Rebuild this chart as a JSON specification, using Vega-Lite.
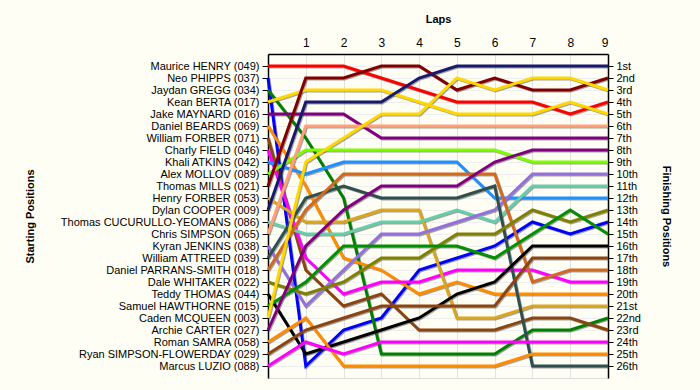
{
 "$schema": "https://vega.github.io/schema/vega-lite/v6.json",
 "width": 340, "height": 324,
 "autosize": {"type": "none"},
 "padding": {"left": 268, "top": 54, "right": 92, "bottom": 12},
 "background": "#FFFEF4",
 "config": {"font": "Liberation Sans", "view": {"stroke": "#dddddd", "fill": "#FFFEF4"}},
 "datasets": {"laps": [
  {"driver":"Maurice HENRY (049)","lap":0,"pos":1},{"driver":"Maurice HENRY (049)","lap":1,"pos":1},{"driver":"Maurice HENRY (049)","lap":2,"pos":1},{"driver":"Maurice HENRY (049)","lap":3,"pos":2},{"driver":"Maurice HENRY (049)","lap":4,"pos":3},{"driver":"Maurice HENRY (049)","lap":5,"pos":4},{"driver":"Maurice HENRY (049)","lap":6,"pos":4},{"driver":"Maurice HENRY (049)","lap":7,"pos":4},{"driver":"Maurice HENRY (049)","lap":8,"pos":5},{"driver":"Maurice HENRY (049)","lap":9,"pos":4},
  {"driver":"Neo PHIPPS (037)","lap":0,"pos":2},{"driver":"Neo PHIPPS (037)","lap":1,"pos":26},{"driver":"Neo PHIPPS (037)","lap":2,"pos":23},{"driver":"Neo PHIPPS (037)","lap":3,"pos":22},{"driver":"Neo PHIPPS (037)","lap":4,"pos":18},{"driver":"Neo PHIPPS (037)","lap":5,"pos":17},{"driver":"Neo PHIPPS (037)","lap":6,"pos":16},{"driver":"Neo PHIPPS (037)","lap":7,"pos":14},{"driver":"Neo PHIPPS (037)","lap":8,"pos":15},{"driver":"Neo PHIPPS (037)","lap":9,"pos":14},
  {"driver":"Jaydan GREGG (034)","lap":0,"pos":3},{"driver":"Jaydan GREGG (034)","lap":1,"pos":7},{"driver":"Jaydan GREGG (034)","lap":2,"pos":12},{"driver":"Jaydan GREGG (034)","lap":3,"pos":25},{"driver":"Jaydan GREGG (034)","lap":4,"pos":25},{"driver":"Jaydan GREGG (034)","lap":5,"pos":25},{"driver":"Jaydan GREGG (034)","lap":6,"pos":25},{"driver":"Jaydan GREGG (034)","lap":7,"pos":23},{"driver":"Jaydan GREGG (034)","lap":8,"pos":23},{"driver":"Jaydan GREGG (034)","lap":9,"pos":22},
  {"driver":"Kean BERTA (017)","lap":0,"pos":4},{"driver":"Kean BERTA (017)","lap":1,"pos":3},{"driver":"Kean BERTA (017)","lap":2,"pos":3},{"driver":"Kean BERTA (017)","lap":3,"pos":3},{"driver":"Kean BERTA (017)","lap":4,"pos":4},{"driver":"Kean BERTA (017)","lap":5,"pos":5},{"driver":"Kean BERTA (017)","lap":6,"pos":5},{"driver":"Kean BERTA (017)","lap":7,"pos":5},{"driver":"Kean BERTA (017)","lap":8,"pos":4},{"driver":"Kean BERTA (017)","lap":9,"pos":5},
  {"driver":"Jake MAYNARD (016)","lap":0,"pos":5},{"driver":"Jake MAYNARD (016)","lap":1,"pos":5},{"driver":"Jake MAYNARD (016)","lap":2,"pos":5},{"driver":"Jake MAYNARD (016)","lap":3,"pos":7},{"driver":"Jake MAYNARD (016)","lap":4,"pos":7},{"driver":"Jake MAYNARD (016)","lap":5,"pos":7},{"driver":"Jake MAYNARD (016)","lap":6,"pos":7},{"driver":"Jake MAYNARD (016)","lap":7,"pos":7},{"driver":"Jake MAYNARD (016)","lap":8,"pos":7},{"driver":"Jake MAYNARD (016)","lap":9,"pos":7},
  {"driver":"Daniel BEARDS (069)","lap":0,"pos":6},{"driver":"Daniel BEARDS (069)","lap":1,"pos":11},{"driver":"Daniel BEARDS (069)","lap":2,"pos":17},{"driver":"Daniel BEARDS (069)","lap":3,"pos":18},{"driver":"Daniel BEARDS (069)","lap":4,"pos":20},{"driver":"Daniel BEARDS (069)","lap":5,"pos":19},{"driver":"Daniel BEARDS (069)","lap":6,"pos":20},{"driver":"Daniel BEARDS (069)","lap":7,"pos":20},{"driver":"Daniel BEARDS (069)","lap":8,"pos":20},{"driver":"Daniel BEARDS (069)","lap":9,"pos":20},
  {"driver":"William FORBER (071)","lap":0,"pos":7},{"driver":"William FORBER (071)","lap":1,"pos":18},{"driver":"William FORBER (071)","lap":2,"pos":21},{"driver":"William FORBER (071)","lap":3,"pos":20},{"driver":"William FORBER (071)","lap":4,"pos":23},{"driver":"William FORBER (071)","lap":5,"pos":23},{"driver":"William FORBER (071)","lap":6,"pos":23},{"driver":"William FORBER (071)","lap":7,"pos":22},{"driver":"William FORBER (071)","lap":8,"pos":22},{"driver":"William FORBER (071)","lap":9,"pos":23},
  {"driver":"Charly FIELD (046)","lap":0,"pos":8},{"driver":"Charly FIELD (046)","lap":1,"pos":17},{"driver":"Charly FIELD (046)","lap":2,"pos":20},{"driver":"Charly FIELD (046)","lap":3,"pos":19},{"driver":"Charly FIELD (046)","lap":4,"pos":19},{"driver":"Charly FIELD (046)","lap":5,"pos":18},{"driver":"Charly FIELD (046)","lap":6,"pos":18},{"driver":"Charly FIELD (046)","lap":7,"pos":18},{"driver":"Charly FIELD (046)","lap":8,"pos":19},{"driver":"Charly FIELD (046)","lap":9,"pos":19},
  {"driver":"Khali ATKINS (042)","lap":0,"pos":9},{"driver":"Khali ATKINS (042)","lap":1,"pos":10},{"driver":"Khali ATKINS (042)","lap":2,"pos":9},{"driver":"Khali ATKINS (042)","lap":3,"pos":9},{"driver":"Khali ATKINS (042)","lap":4,"pos":9},{"driver":"Khali ATKINS (042)","lap":5,"pos":9},{"driver":"Khali ATKINS (042)","lap":6,"pos":12},{"driver":"Khali ATKINS (042)","lap":7,"pos":12},{"driver":"Khali ATKINS (042)","lap":8,"pos":12},{"driver":"Khali ATKINS (042)","lap":9,"pos":12},
  {"driver":"Alex MOLLOV (089)","lap":0,"pos":10},{"driver":"Alex MOLLOV (089)","lap":1,"pos":8},{"driver":"Alex MOLLOV (089)","lap":2,"pos":8},{"driver":"Alex MOLLOV (089)","lap":3,"pos":8},{"driver":"Alex MOLLOV (089)","lap":4,"pos":8},{"driver":"Alex MOLLOV (089)","lap":5,"pos":8},{"driver":"Alex MOLLOV (089)","lap":6,"pos":8},{"driver":"Alex MOLLOV (089)","lap":7,"pos":9},{"driver":"Alex MOLLOV (089)","lap":8,"pos":9},{"driver":"Alex MOLLOV (089)","lap":9,"pos":9},
  {"driver":"Thomas MILLS (021)","lap":0,"pos":11},{"driver":"Thomas MILLS (021)","lap":1,"pos":2},{"driver":"Thomas MILLS (021)","lap":2,"pos":2},{"driver":"Thomas MILLS (021)","lap":3,"pos":1},{"driver":"Thomas MILLS (021)","lap":4,"pos":1},{"driver":"Thomas MILLS (021)","lap":5,"pos":3},{"driver":"Thomas MILLS (021)","lap":6,"pos":2},{"driver":"Thomas MILLS (021)","lap":7,"pos":3},{"driver":"Thomas MILLS (021)","lap":8,"pos":3},{"driver":"Thomas MILLS (021)","lap":9,"pos":2},
  {"driver":"Henry FORBER (053)","lap":0,"pos":12},{"driver":"Henry FORBER (053)","lap":1,"pos":14},{"driver":"Henry FORBER (053)","lap":2,"pos":14},{"driver":"Henry FORBER (053)","lap":3,"pos":13},{"driver":"Henry FORBER (053)","lap":4,"pos":13},{"driver":"Henry FORBER (053)","lap":5,"pos":22},{"driver":"Henry FORBER (053)","lap":6,"pos":22},{"driver":"Henry FORBER (053)","lap":7,"pos":21},{"driver":"Henry FORBER (053)","lap":8,"pos":21},{"driver":"Henry FORBER (053)","lap":9,"pos":21},
  {"driver":"Dylan COOPER (009)","lap":0,"pos":13},{"driver":"Dylan COOPER (009)","lap":1,"pos":4},{"driver":"Dylan COOPER (009)","lap":2,"pos":4},{"driver":"Dylan COOPER (009)","lap":3,"pos":4},{"driver":"Dylan COOPER (009)","lap":4,"pos":2},{"driver":"Dylan COOPER (009)","lap":5,"pos":1},{"driver":"Dylan COOPER (009)","lap":6,"pos":1},{"driver":"Dylan COOPER (009)","lap":7,"pos":1},{"driver":"Dylan COOPER (009)","lap":8,"pos":1},{"driver":"Dylan COOPER (009)","lap":9,"pos":1},
  {"driver":"Thomas CUCURULLO-YEOMANS (086)","lap":0,"pos":14},{"driver":"Thomas CUCURULLO-YEOMANS (086)","lap":1,"pos":15},{"driver":"Thomas CUCURULLO-YEOMANS (086)","lap":2,"pos":15},{"driver":"Thomas CUCURULLO-YEOMANS (086)","lap":3,"pos":14},{"driver":"Thomas CUCURULLO-YEOMANS (086)","lap":4,"pos":14},{"driver":"Thomas CUCURULLO-YEOMANS (086)","lap":5,"pos":13},{"driver":"Thomas CUCURULLO-YEOMANS (086)","lap":6,"pos":14},{"driver":"Thomas CUCURULLO-YEOMANS (086)","lap":7,"pos":11},{"driver":"Thomas CUCURULLO-YEOMANS (086)","lap":8,"pos":11},{"driver":"Thomas CUCURULLO-YEOMANS (086)","lap":9,"pos":11},
  {"driver":"Chris SIMPSON (065)","lap":0,"pos":15},{"driver":"Chris SIMPSON (065)","lap":1,"pos":6},{"driver":"Chris SIMPSON (065)","lap":2,"pos":6},{"driver":"Chris SIMPSON (065)","lap":3,"pos":6},{"driver":"Chris SIMPSON (065)","lap":4,"pos":6},{"driver":"Chris SIMPSON (065)","lap":5,"pos":6},{"driver":"Chris SIMPSON (065)","lap":6,"pos":6},{"driver":"Chris SIMPSON (065)","lap":7,"pos":6},{"driver":"Chris SIMPSON (065)","lap":8,"pos":6},{"driver":"Chris SIMPSON (065)","lap":9,"pos":6},
  {"driver":"Kyran JENKINS (038)","lap":0,"pos":16},{"driver":"Kyran JENKINS (038)","lap":1,"pos":21},{"driver":"Kyran JENKINS (038)","lap":2,"pos":18},{"driver":"Kyran JENKINS (038)","lap":3,"pos":15},{"driver":"Kyran JENKINS (038)","lap":4,"pos":15},{"driver":"Kyran JENKINS (038)","lap":5,"pos":14},{"driver":"Kyran JENKINS (038)","lap":6,"pos":13},{"driver":"Kyran JENKINS (038)","lap":7,"pos":10},{"driver":"Kyran JENKINS (038)","lap":8,"pos":10},{"driver":"Kyran JENKINS (038)","lap":9,"pos":10},
  {"driver":"William ATTREED (039)","lap":0,"pos":17},{"driver":"William ATTREED (039)","lap":1,"pos":12},{"driver":"William ATTREED (039)","lap":2,"pos":11},{"driver":"William ATTREED (039)","lap":3,"pos":12},{"driver":"William ATTREED (039)","lap":4,"pos":12},{"driver":"William ATTREED (039)","lap":5,"pos":12},{"driver":"William ATTREED (039)","lap":6,"pos":11},{"driver":"William ATTREED (039)","lap":7,"pos":26},{"driver":"William ATTREED (039)","lap":8,"pos":26},{"driver":"William ATTREED (039)","lap":9,"pos":26},
  {"driver":"Daniel PARRANS-SMITH (018)","lap":0,"pos":18},{"driver":"Daniel PARRANS-SMITH (018)","lap":1,"pos":13},{"driver":"Daniel PARRANS-SMITH (018)","lap":2,"pos":10},{"driver":"Daniel PARRANS-SMITH (018)","lap":3,"pos":10},{"driver":"Daniel PARRANS-SMITH (018)","lap":4,"pos":10},{"driver":"Daniel PARRANS-SMITH (018)","lap":5,"pos":10},{"driver":"Daniel PARRANS-SMITH (018)","lap":6,"pos":10},{"driver":"Daniel PARRANS-SMITH (018)","lap":7,"pos":19},{"driver":"Daniel PARRANS-SMITH (018)","lap":8,"pos":18},{"driver":"Daniel PARRANS-SMITH (018)","lap":9,"pos":18},
  {"driver":"Dale WHITAKER (022)","lap":0,"pos":19},{"driver":"Dale WHITAKER (022)","lap":1,"pos":20},{"driver":"Dale WHITAKER (022)","lap":2,"pos":19},{"driver":"Dale WHITAKER (022)","lap":3,"pos":17},{"driver":"Dale WHITAKER (022)","lap":4,"pos":17},{"driver":"Dale WHITAKER (022)","lap":5,"pos":15},{"driver":"Dale WHITAKER (022)","lap":6,"pos":15},{"driver":"Dale WHITAKER (022)","lap":7,"pos":13},{"driver":"Dale WHITAKER (022)","lap":8,"pos":14},{"driver":"Dale WHITAKER (022)","lap":9,"pos":13},
  {"driver":"Teddy THOMAS (044)","lap":0,"pos":20},{"driver":"Teddy THOMAS (044)","lap":1,"pos":25},{"driver":"Teddy THOMAS (044)","lap":2,"pos":24},{"driver":"Teddy THOMAS (044)","lap":3,"pos":23},{"driver":"Teddy THOMAS (044)","lap":4,"pos":22},{"driver":"Teddy THOMAS (044)","lap":5,"pos":20},{"driver":"Teddy THOMAS (044)","lap":6,"pos":19},{"driver":"Teddy THOMAS (044)","lap":7,"pos":16},{"driver":"Teddy THOMAS (044)","lap":8,"pos":16},{"driver":"Teddy THOMAS (044)","lap":9,"pos":16},
  {"driver":"Samuel HAWTHORNE (015)","lap":0,"pos":21},{"driver":"Samuel HAWTHORNE (015)","lap":1,"pos":19},{"driver":"Samuel HAWTHORNE (015)","lap":2,"pos":16},{"driver":"Samuel HAWTHORNE (015)","lap":3,"pos":16},{"driver":"Samuel HAWTHORNE (015)","lap":4,"pos":16},{"driver":"Samuel HAWTHORNE (015)","lap":5,"pos":16},{"driver":"Samuel HAWTHORNE (015)","lap":6,"pos":17},{"driver":"Samuel HAWTHORNE (015)","lap":7,"pos":15},{"driver":"Samuel HAWTHORNE (015)","lap":8,"pos":13},{"driver":"Samuel HAWTHORNE (015)","lap":9,"pos":15},
  {"driver":"Caden MCQUEEN (003)","lap":0,"pos":22},{"driver":"Caden MCQUEEN (003)","lap":1,"pos":9},{"driver":"Caden MCQUEEN (003)","lap":2,"pos":7},{"driver":"Caden MCQUEEN (003)","lap":3,"pos":5},{"driver":"Caden MCQUEEN (003)","lap":4,"pos":5},{"driver":"Caden MCQUEEN (003)","lap":5,"pos":2},{"driver":"Caden MCQUEEN (003)","lap":6,"pos":3},{"driver":"Caden MCQUEEN (003)","lap":7,"pos":2},{"driver":"Caden MCQUEEN (003)","lap":8,"pos":2},{"driver":"Caden MCQUEEN (003)","lap":9,"pos":3},
  {"driver":"Archie CARTER (027)","lap":0,"pos":23},{"driver":"Archie CARTER (027)","lap":1,"pos":16},{"driver":"Archie CARTER (027)","lap":2,"pos":13},{"driver":"Archie CARTER (027)","lap":3,"pos":11},{"driver":"Archie CARTER (027)","lap":4,"pos":11},{"driver":"Archie CARTER (027)","lap":5,"pos":11},{"driver":"Archie CARTER (027)","lap":6,"pos":9},{"driver":"Archie CARTER (027)","lap":7,"pos":8},{"driver":"Archie CARTER (027)","lap":8,"pos":8},{"driver":"Archie CARTER (027)","lap":9,"pos":8},
  {"driver":"Roman SAMRA (058)","lap":0,"pos":24},{"driver":"Roman SAMRA (058)","lap":1,"pos":22},{"driver":"Roman SAMRA (058)","lap":2,"pos":26},{"driver":"Roman SAMRA (058)","lap":3,"pos":26},{"driver":"Roman SAMRA (058)","lap":4,"pos":26},{"driver":"Roman SAMRA (058)","lap":5,"pos":26},{"driver":"Roman SAMRA (058)","lap":6,"pos":26},{"driver":"Roman SAMRA (058)","lap":7,"pos":25},{"driver":"Roman SAMRA (058)","lap":8,"pos":25},{"driver":"Roman SAMRA (058)","lap":9,"pos":25},
  {"driver":"Ryan SIMPSON-FLOWERDAY (029)","lap":0,"pos":25},{"driver":"Ryan SIMPSON-FLOWERDAY (029)","lap":1,"pos":23},{"driver":"Ryan SIMPSON-FLOWERDAY (029)","lap":2,"pos":22},{"driver":"Ryan SIMPSON-FLOWERDAY (029)","lap":3,"pos":21},{"driver":"Ryan SIMPSON-FLOWERDAY (029)","lap":4,"pos":21},{"driver":"Ryan SIMPSON-FLOWERDAY (029)","lap":5,"pos":21},{"driver":"Ryan SIMPSON-FLOWERDAY (029)","lap":6,"pos":21},{"driver":"Ryan SIMPSON-FLOWERDAY (029)","lap":7,"pos":17},{"driver":"Ryan SIMPSON-FLOWERDAY (029)","lap":8,"pos":17},{"driver":"Ryan SIMPSON-FLOWERDAY (029)","lap":9,"pos":17},
  {"driver":"Marcus LUZIO (088)","lap":0,"pos":26},{"driver":"Marcus LUZIO (088)","lap":1,"pos":24},{"driver":"Marcus LUZIO (088)","lap":2,"pos":25},{"driver":"Marcus LUZIO (088)","lap":3,"pos":24},{"driver":"Marcus LUZIO (088)","lap":4,"pos":24},{"driver":"Marcus LUZIO (088)","lap":5,"pos":24},{"driver":"Marcus LUZIO (088)","lap":6,"pos":24},{"driver":"Marcus LUZIO (088)","lap":7,"pos":24},{"driver":"Marcus LUZIO (088)","lap":8,"pos":24},{"driver":"Marcus LUZIO (088)","lap":9,"pos":24}
 ]},
 "data": {"name": "laps"},
 "encoding": {
  "x": {"field": "lap", "type": "quantitative", "scale": {"domain": [0, 9], "nice": false, "zero": false},
        "axis": {"orient": "top", "title": "Laps", "values": [1,2,3,4,5,6,7,8,9], "format": "d", "ticks": false, "labelPadding": 5, "labelFontSize": 12, "labelColor": "#000000", "domainColor": "#000000", "domainWidth": 1.5, "grid": true, "gridColor": "#e2e2e2", "titleFontSize": 11, "titleFontWeight": "bold", "titleColor": "#000000", "titleX": 170, "titleY": -35, "titleAlign": "center", "titleBaseline": "middle"}}
 },
 "layer": [
  {"mark": {"type": "line", "color": "#333333", "opacity": 0.45, "strokeWidth": 3, "xOffset": 1, "yOffset": 1},
   "encoding": {
    "y": {"field": "pos", "type": "quantitative", "scale": {"domain": [0, 27], "reverse": true, "nice": false, "zero": false}, "axis": null},
    "detail": {"field": "driver", "type": "nominal"}
   }},
  {"mark": {"type": "line", "strokeWidth": 3},
   "encoding": {
    "y": {"field": "pos", "type": "quantitative", "scale": {"domain": [0, 27], "reverse": true, "nice": false, "zero": false},
          "axis": {"orient": "left", "values": [1,2,3,4,5,6,7,8,9,10,11,12,13,14,15,16,17,18,19,20,21,22,23,24,25,26],
                   "labelExpr": "['Maurice HENRY (049)','Neo PHIPPS (037)','Jaydan GREGG (034)','Kean BERTA (017)','Jake MAYNARD (016)','Daniel BEARDS (069)','William FORBER (071)','Charly FIELD (046)','Khali ATKINS (042)','Alex MOLLOV (089)','Thomas MILLS (021)','Henry FORBER (053)','Dylan COOPER (009)','Thomas CUCURULLO-YEOMANS (086)','Chris SIMPSON (065)','Kyran JENKINS (038)','William ATTREED (039)','Daniel PARRANS-SMITH (018)','Dale WHITAKER (022)','Teddy THOMAS (044)','Samuel HAWTHORNE (015)','Caden MCQUEEN (003)','Archie CARTER (027)','Roman SAMRA (058)','Ryan SIMPSON-FLOWERDAY (029)','Marcus LUZIO (088)'][datum.value - 1]",
                   "labelFontSize": 11, "labelColor": "#000000", "labelPadding": 3, "labelLimit": 300,
                   "tickSize": 6, "tickColor": "#000000", "domainColor": "#000000", "domainWidth": 1.5,
                   "grid": true, "gridColor": "#eeeeee",
                   "title": "Starting Positions", "titleFontSize": 11, "titleFontWeight": "bold", "titleColor": "#000000",
                   "titleAngle": -90, "titleX": -238, "titleY": 162, "titleAlign": "center", "titleBaseline": "middle"}},
    "color": {"field": "driver", "type": "nominal", "legend": null,
      "scale": {"domain": ["Maurice HENRY (049)","Neo PHIPPS (037)","Jaydan GREGG (034)","Kean BERTA (017)","Jake MAYNARD (016)","Daniel BEARDS (069)","William FORBER (071)","Charly FIELD (046)","Khali ATKINS (042)","Alex MOLLOV (089)","Thomas MILLS (021)","Henry FORBER (053)","Dylan COOPER (009)","Thomas CUCURULLO-YEOMANS (086)","Chris SIMPSON (065)","Kyran JENKINS (038)","William ATTREED (039)","Daniel PARRANS-SMITH (018)","Dale WHITAKER (022)","Teddy THOMAS (044)","Samuel HAWTHORNE (015)","Caden MCQUEEN (003)","Archie CARTER (027)","Roman SAMRA (058)","Ryan SIMPSON-FLOWERDAY (029)","Marcus LUZIO (088)"],
                "range": ["#FF0000","#0000FF","#008000","#FFD800","#800080","#FF8C00","#8B4513","#FF00FF","#1E90FF","#7CFC00","#800000","#DAA520","#191970","#66CDAA","#FFA07A","#9370DB","#2F4F4F","#D2691E","#808000","#000000","#009000","#FFD800","#800080","#FF8C00","#8B4513","#FF00FF"]}}
   }},
  {"mark": {"type": "line", "opacity": 0, "strokeWidth": 1},
   "encoding": {
    "y": {"field": "pos", "type": "quantitative", "scale": {"domain": [0, 27], "reverse": true, "nice": false, "zero": false},
          "axis": {"orient": "right", "values": [1,2,3,4,5,6,7,8,9,10,11,12,13,14,15,16,17,18,19,20,21,22,23,24,25,26],
                   "labelExpr": "datum.value + ((datum.value == 1 || datum.value == 21) ? 'st' : (datum.value == 2 || datum.value == 22) ? 'nd' : (datum.value == 3 || datum.value == 23) ? 'rd' : 'th')",
                   "labelFontSize": 11, "labelColor": "#000000", "labelPadding": 3,
                   "tickSize": 5, "tickColor": "#000000", "domainColor": "#000000", "domainWidth": 1.5, "grid": false,
                   "title": "Finishing Positions", "titleFontSize": 11, "titleFontWeight": "bold", "titleColor": "#000000",
                   "titleAngle": 90, "titleX": 57, "titleY": 162, "titleAlign": "center", "titleBaseline": "middle"}},
    "detail": {"field": "driver", "type": "nominal"}
   }}
 ],
 "resolve": {"scale": {"y": "independent"}, "axis": {"y": "independent"}}
}
